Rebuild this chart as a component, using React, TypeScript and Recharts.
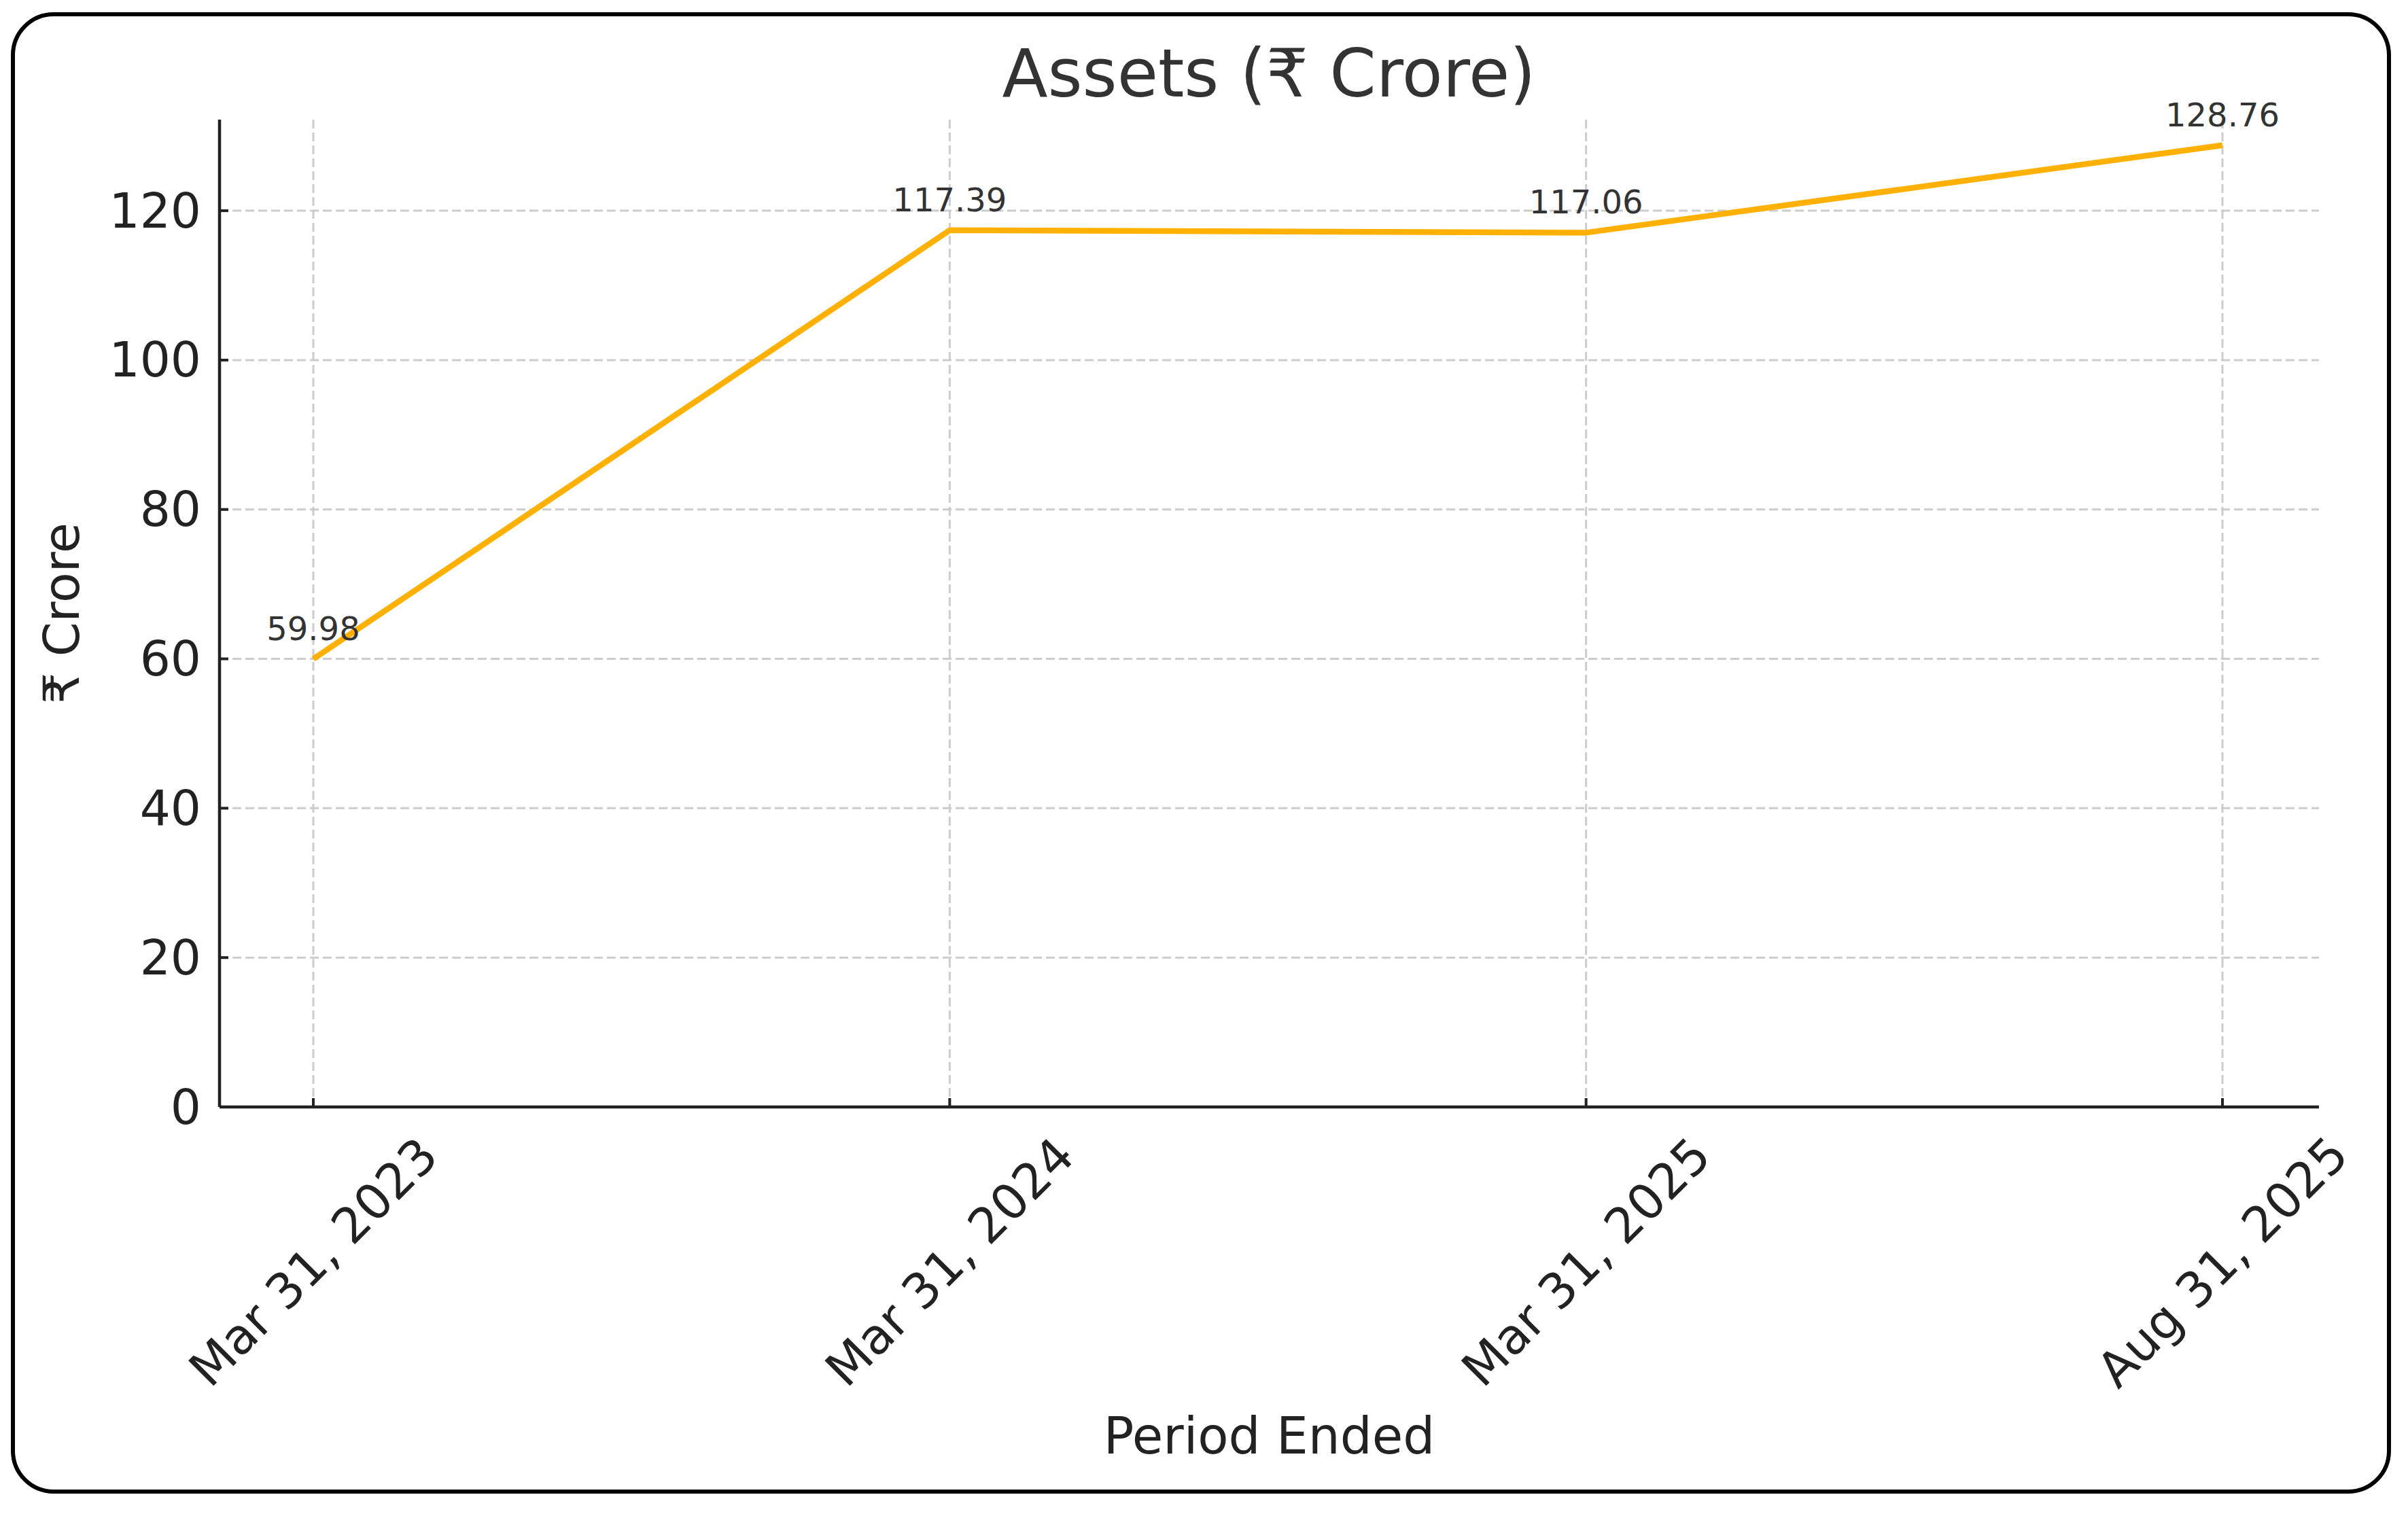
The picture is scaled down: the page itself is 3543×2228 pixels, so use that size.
import React from 'react';
import { LineChart, Line, XAxis, YAxis, CartesianGrid, LabelList, Label } from 'recharts';

const categories = ['Mar 31, 2023', 'Mar 31, 2024', 'Mar 31, 2025', 'Aug 31, 2025'];
const assets = [59.98, 117.39, 117.06, 128.76];
const yTicks = [0, 20, 40, 60, 80, 100, 120];
const yDomain = [0, 132.2];
const title = 'Assets (₹ Crore)';
const yLabel = '₹ Crore';
const xLabel = 'Period Ended';

const data = categories.map((c, i) => ({ period: c, assets: assets[i] }));

const W = 3543;
const H = 2228;
const FONT = '"DejaVu Sans", "Noto Sans", sans-serif';
const INK = '#222222';

const XTick = (props: any) => {
  const { x, y, payload } = props;
  const cy = y + 228;
  return (
    <g>
      <line x1={x} y1={y} x2={x} y2={y - 13} stroke={INK} strokeWidth={4} />
      <text
        x={x}
        y={cy}
        transform={`rotate(-45 ${x} ${cy})`}
        textAnchor="middle"
        dominantBaseline="central"
        fontSize={72}
        fill={INK}
        fontFamily={FONT}
      >
        {payload.value}
      </text>
    </g>
  );
};

const YTick = (props: any) => {
  const { x, y, payload } = props;
  return (
    <g>
      <line x1={x + 27} y1={y} x2={x + 40} y2={y} stroke={INK} strokeWidth={4} />
      <text
        x={x}
        y={y}
        textAnchor="end"
        dominantBaseline="central"
        fontSize={71}
        fill={INK}
        fontFamily={FONT}
      >
        {payload.value}
      </text>
    </g>
  );
};

const PointLabel = (props: any) => {
  const { x, y, value } = props;
  return (
    <text x={x} y={y - 28} textAnchor="middle" fontSize={48} fill="#333333" fontFamily={FONT}>
      {Number(value).toFixed(2)}
    </text>
  );
};

const YLabel = (props: any) => {
  const vb = props.viewBox || { x: 20, y: 176, width: 303, height: 1453 };
  const cx = vb.x + 70;
  const cy = vb.y + vb.height / 2;
  return (
    <text
      x={cx}
      y={cy}
      transform={`rotate(-90 ${cx} ${cy})`}
      textAnchor="middle"
      dominantBaseline="central"
      fontSize={73}
      fill={INK}
      fontFamily={FONT}
    >
      {yLabel}
    </text>
  );
};

const XLabel = (props: any) => {
  const vb = props.viewBox || { x: 323, y: 1629, width: 3089, height: 400 };
  const cx = vb.x + vb.width / 2;
  return (
    <text
      x={cx}
      y={2113}
      textAnchor="middle"
      dominantBaseline="central"
      fontSize={74}
      fill={INK}
      fontFamily={FONT}
    >
      {xLabel}
    </text>
  );
};

export default function App() {
  return (
    <div style={{ position: 'absolute', left: 0, top: 0, width: W, height: H, background: '#fff' }}>
      <LineChart
        width={W}
        height={H}
        data={data}
        margin={{ top: 176, right: 131, left: 20, bottom: 199 }}
      >
        <CartesianGrid
          stroke="#cccccc"
          strokeDasharray="13 6"
          strokeWidth={3}
          syncWithTicks={true}
        />
        <XAxis
          dataKey="period"
          type="category"
          height={400}
          padding={{ left: 138, right: 142 }}
          axisLine={{ stroke: INK, strokeWidth: 4.5 }}
          tickLine={false}
          tickSize={0}
          tickMargin={0}
          tick={<XTick />}
          interval={0}
        >
          <Label content={<XLabel />} />
        </XAxis>
        <YAxis
          type="number"
          domain={yDomain}
          ticks={yTicks}
          width={303}
          axisLine={{ stroke: INK, strokeWidth: 4.5 }}
          tickLine={false}
          tickSize={0}
          tickMargin={27}
          tick={<YTick />}
          interval={0}
        >
          <Label content={<YLabel />} />
        </YAxis>
        <Line
          type="linear"
          dataKey="assets"
          stroke="#FFB000"
          strokeWidth={8.5}
          strokeLinejoin="round"
          dot={false}
          activeDot={false}
          isAnimationActive={false}
        >
          <LabelList dataKey="assets" content={<PointLabel />} />
        </Line>
      </LineChart>
      <svg
        width={W}
        height={H}
        style={{ position: 'absolute', left: 0, top: 0, pointerEvents: 'none' }}
      >
        <rect x={19} y={21} width={3496} height={2174} rx={60} ry={60} fill="none" stroke="#000" strokeWidth={6} />
        <text x={1867} y={142} textAnchor="middle" fontSize={98} fill="#333333" fontFamily={FONT}>
          {title}
        </text>
      </svg>
    </div>
  );
}
